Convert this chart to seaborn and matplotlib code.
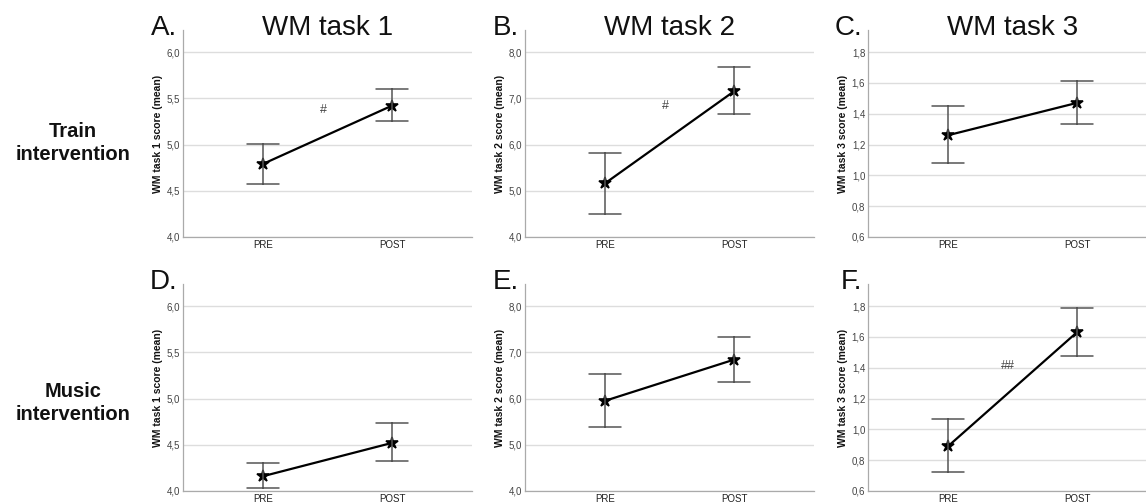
import matplotlib
matplotlib.use("Agg")
import matplotlib.pyplot as plt
import numpy as np
import pandas as pd
import seaborn as sns

# ---- data -------------------------------------------------------------
tasks = ["WM task 1", "WM task 2", "WM task 3"]
groups = ["Train\nintervention", "Music\nintervention"]
times = ["PRE", "POST"]
panel_letters = [["A.", "B.", "C."], ["D.", "E.", "F."]]

# group means and 95% CI bounds, one [PRE, POST] pair per task
train_mean = [[4.79, 5.42], [5.16, 7.15], [1.26, 1.47]]
train_lo = [[4.57, 5.25], [4.50, 6.65], [1.08, 1.335]]
train_hi = [[5.01, 5.60], [5.82, 7.67], [1.45, 1.615]]

music_mean = [[4.16, 4.52], [5.95, 6.84], [0.89, 1.63]]
music_lo = [[4.03, 4.32], [5.39, 6.36], [0.725, 1.475]]
music_hi = [[4.30, 4.74], [6.52, 7.33], [1.065, 1.79]]

# y-axis tick values per task
task_ticks = [
    [4.0, 4.5, 5.0, 5.5, 6.0],
    [4.0, 5.0, 6.0, 7.0, 8.0],
    [0.6, 0.8, 1.0, 1.2, 1.4, 1.6, 1.8],
]

# significance markers: (row, col) -> label
sig_marks = {(0, 0): "#", (0, 1): "#", (1, 2): "##"}

# ---- figure -------------------------------------------------------------
sns.set_theme(style="white")
plt.rcParams["font.family"] = ["Liberation Sans", "DejaVu Sans"]

W, H = 1146, 504
fig = plt.figure(figsize=(W / 100, H / 100), dpi=100)

ax_lefts = [183, 525, 868]
ax_w = 289
row_bottoms = [237, 491]
ax_h = 207

stats = [(train_mean, train_lo, train_hi), (music_mean, music_lo, music_hi)]
sig_pos = {(0, 0): 5.37, (0, 1): 6.83, (1, 2): 1.41}

for r in range(2):
    means, los, his = stats[r]
    for c in range(3):
        ax = fig.add_axes([ax_lefts[c] / W, 1 - row_bottoms[r] / H, ax_w / W, ax_h / H])
        # three values per time point: lower bound, mean, upper bound;
        # the median is the mean and the full range is the CI
        rows = []
        for t, tm in enumerate(times):
            for v in (los[c][t], means[c][t], his[c][t]):
                rows.append({"time": tm, "score": v})
        df = pd.DataFrame(rows)
        sns.pointplot(
            data=df, x="time", y="score", order=times, ax=ax,
            estimator="median", errorbar=("pi", 100), capsize=0.25,
            color="black", markers="*", markersize=9, linewidth=1.6,
            err_kws={"color": "#555555", "linewidth": 1.1},
        )
        ticks = task_ticks[c]
        lo_t, hi_t = ticks[0], ticks[-1]
        span = hi_t - lo_t
        ax.set_ylim(lo_t, hi_t + span * 22 / 185)
        ax.set_xlim(-0.62, 1.62)
        ax.set_yticks(ticks)
        ax.set_yticklabels([f"{t:.1f}".replace(".", ",") for t in ticks],
                           fontsize=7, color="#444444")
        ax.tick_params(axis="x", labelsize=7, labelcolor="#222222", length=0, pad=2)
        ax.tick_params(axis="y", length=0, pad=2)
        ax.yaxis.grid(True, color="#dddddd", linewidth=1.0)
        ax.set_axisbelow(True)
        for s in ("top", "right"):
            ax.spines[s].set_visible(False)
        for s in ("left", "bottom"):
            ax.spines[s].set_color("#aaaaaa")
            ax.spines[s].set_linewidth(0.9)
        ax.set_xlabel("")
        ax.set_ylabel(f"{tasks[c]} score (mean)", fontsize=7.5,
                      fontweight="bold", color="#111111", labelpad=3)

        ax.text(-0.02, 0.975, panel_letters[r][c], transform=ax.transAxes,
                ha="right", va="baseline", fontsize=20, color="#111111")
        if r == 0:
            ax.text(0.5, 0.975, tasks[c], transform=ax.transAxes,
                    ha="center", va="baseline", fontsize=20, color="#111111")
        if (r, c) in sig_marks:
            ax.text(0.465, sig_pos[(r, c)], sig_marks[(r, c)],
                    ha="center", va="center", fontsize=9, color="#444444")

# row labels
for r, (g, yc) in enumerate(zip(groups, [143, 403])):
    fig.text(73 / W, 1 - yc / H, g, ha="center", va="center",
             fontsize=14.5, fontweight="bold", color="#111111", linespacing=1.25)

fig.savefig("out.png", dpi=100)
